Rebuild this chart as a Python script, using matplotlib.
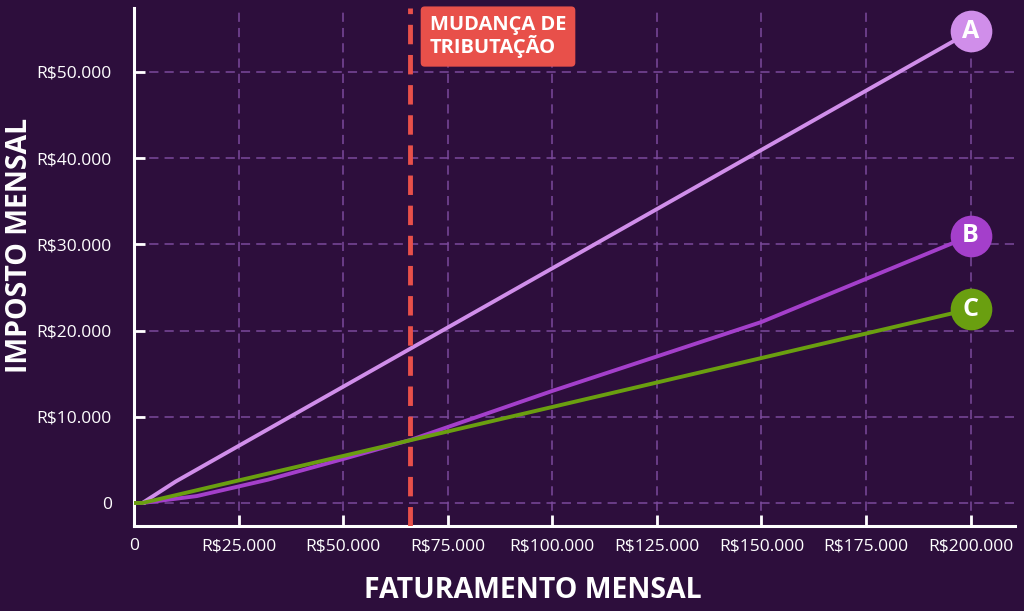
import matplotlib.pyplot as plt
from matplotlib.ticker import FuncFormatter

# dados
faturamento_a = [0, 2000, 10000, 200000]
imposto_a = [0, 0, 2500, 54700]
faturamento_b = [0, 2000, 15000, 32000, 50000, 66000, 100000, 150000, 200000]
imposto_b = [0, 0, 800, 2700, 5100, 7300, 13000, 21000, 31000]
faturamento_c = [0, 2000, 200000]
imposto_c = [0, 0, 22500]
mudanca = 66000
x_ticks = [0, 25000, 50000, 75000, 100000, 125000, 150000, 175000, 200000]
y_ticks = [0, 10000, 20000, 30000, 40000, 50000]

bg = "#2d0e3c"
grid_col = "#7b4a9c"
cor_a = "#d08eea"
cor_b = "#a43fcb"
cor_c = "#6a9f10"
red = "#e8504a"

plt.rcParams["font.family"] = ["Open Sans", "DejaVu Sans"]

fig = plt.figure(figsize=(10.24, 6.11), dpi=100, facecolor=bg)
ax = fig.add_axes([134 / 1024, 1 - 526 / 611, 881 / 1024, 518 / 611])
ax.set_facecolor(bg)

ax.set_xlim(0, 210600)
ax.set_ylim(-2670, 57420)

def brl(v, pos):
    if v == 0:
        return "0"
    return "R$" + f"{int(v):,}".replace(",", ".")

ax.set_xticks(x_ticks)
ax.set_yticks(y_ticks)
ax.xaxis.set_major_formatter(FuncFormatter(brl))
ax.yaxis.set_major_formatter(FuncFormatter(brl))
ax.tick_params(colors="white", direction="in", length=8, width=2, labelsize=12.5)
ax.tick_params(axis="y", pad=16)
ax.tick_params(axis="x", pad=9)

for s in ["top", "right"]:
    ax.spines[s].set_visible(False)
for s in ["left", "bottom"]:
    ax.spines[s].set_color("white")
    ax.spines[s].set_linewidth(2.2)

ax.grid(True, color=grid_col, linestyle=(0, (6, 4)), linewidth=1.1)
ax.set_axisbelow(True)

ax.plot(faturamento_a, imposto_a, color=cor_a, lw=2.8, solid_capstyle="round", zorder=3)
ax.plot(faturamento_b, imposto_b, color=cor_b, lw=2.8, solid_capstyle="round", zorder=3)
ax.plot(faturamento_c, imposto_c, color=cor_c, lw=2.8, solid_capstyle="round", zorder=3)

# linha da mudança de tributação
ax.axvline(mudanca, color=red, lw=3.5, linestyle=(0, (4, 2.2)), zorder=4)
ax.text(mudanca + 4700, 56550, "MUDANÇA DE\nTRIBUTAÇÃO", color="white", fontsize=14.5,
        fontweight="bold", va="top", ha="left", linespacing=0.95, zorder=5,
        bbox=dict(boxstyle="round,pad=0.45,rounding_size=0.2", fc=red, ec="none"))

# marcadores A, B, C
for fx, iy, cor, letra in [(faturamento_a, imposto_a, cor_a, "A"),
                           (faturamento_b, imposto_b, cor_b, "B"),
                           (faturamento_c, imposto_c, cor_c, "C")]:
    ax.plot(fx[-1], iy[-1], "o", ms=30, color=cor, mec="none", zorder=6, clip_on=False)
    ax.text(fx[-1], iy[-1], letra, color="white", fontsize=18, fontweight="bold",
            ha="center", va="center", zorder=7)

fig.text(20 / 1024, 1 - 245 / 611, "IMPOSTO MENSAL", color="white", fontsize=20.5,
         fontweight="bold", rotation=90, ha="center", va="center")
fig.text(533 / 1024, 1 - 590 / 611, "FATURAMENTO MENSAL", color="white", fontsize=20.5,
         fontweight="bold", ha="center", va="center")

fig.savefig("out.png", dpi=100, facecolor=bg)
